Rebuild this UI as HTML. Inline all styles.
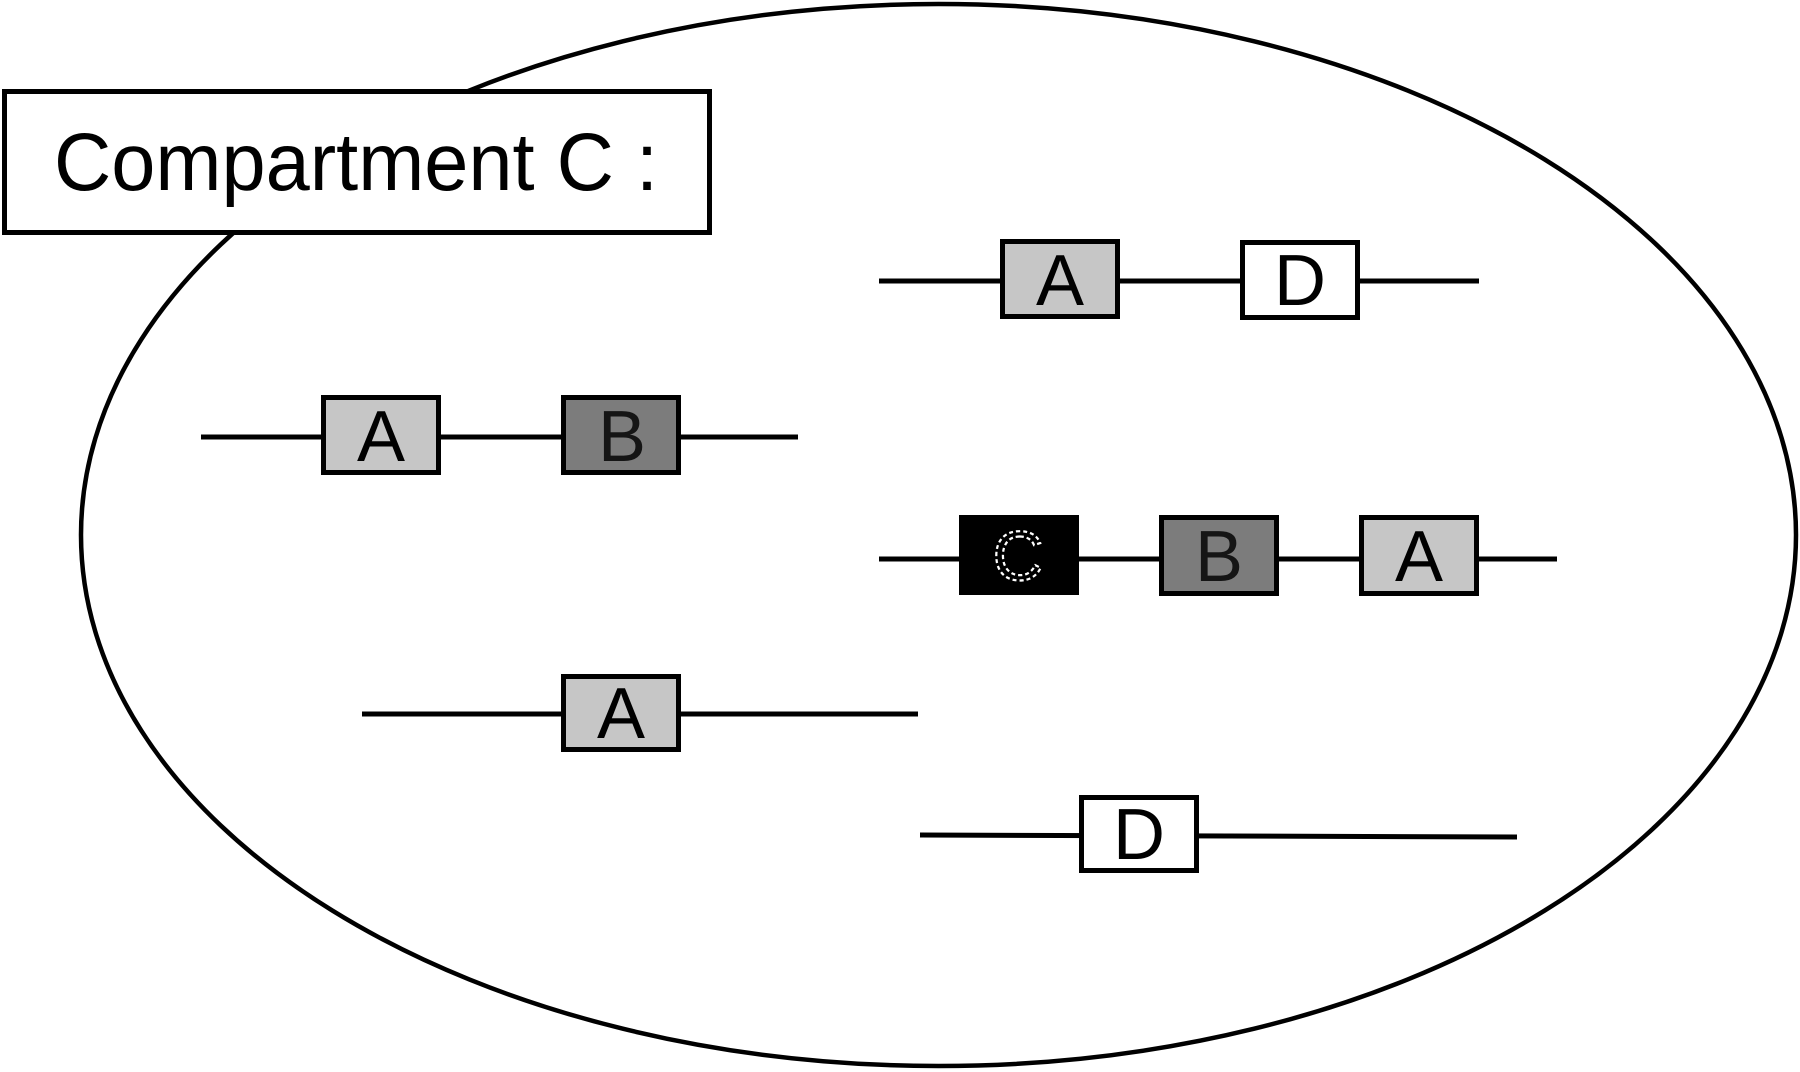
<!DOCTYPE html>
<html>
<head>
<meta charset="utf-8">
<style>
  html, body { margin: 0; padding: 0; background: #ffffff; }
  body { width: 1800px; height: 1072px; overflow: hidden; }
  svg { display: block; }
  text { font-family: "Liberation Sans", Arial, sans-serif; }
</style>
</head>
<body>
<svg width="1800" height="1072" viewBox="0 0 1800 1072" xmlns="http://www.w3.org/2000/svg">
  <rect x="0" y="0" width="1800" height="1072" fill="#ffffff"/>

  <!-- Compartment ellipse -->
  <ellipse cx="938.5" cy="535" rx="857.5" ry="531" fill="none" stroke="#000" stroke-width="4.5"/>

  <!-- Label box -->
  <rect x="4.5" y="91.5" width="705" height="141" fill="#ffffff" stroke="#000" stroke-width="5"/>
  <text x="54" y="190" font-size="82" fill="#000" textLength="604" lengthAdjust="spacingAndGlyphs">Compartment C :</text>

  <!-- Row 1: A - B -->
  <line x1="201" y1="437" x2="798" y2="437" stroke="#000" stroke-width="5"/>
  <rect x="323.5" y="397.5" width="115" height="75" fill="#c6c6c6" stroke="#000" stroke-width="5"/>
  <text x="381" y="461" font-size="72" text-anchor="middle" fill="#000">A</text>
  <rect x="563.5" y="397.5" width="115" height="75" fill="#7c7c7c" stroke="#000" stroke-width="5"/>
  <text x="622" y="461" font-size="72" text-anchor="middle" fill="#151515">B</text>

  <!-- Row 2 (top right): A - D -->
  <line x1="879" y1="281" x2="1479" y2="281" stroke="#000" stroke-width="5"/>
  <rect x="1002.5" y="241.5" width="115" height="75" fill="#c6c6c6" stroke="#000" stroke-width="5"/>
  <text x="1060" y="305" font-size="72" text-anchor="middle" fill="#000">A</text>
  <rect x="1242.5" y="242.5" width="115" height="75" fill="#ffffff" stroke="#000" stroke-width="5"/>
  <text x="1300" y="305" font-size="72" text-anchor="middle" fill="#000">D</text>

  <!-- Row 3: C - B - A -->
  <line x1="879" y1="559" x2="1557" y2="559" stroke="#000" stroke-width="5"/>
  <rect x="961.5" y="517.5" width="115" height="75" fill="#000000" stroke="#000" stroke-width="5"/>
  <text x="1018" y="580" font-size="70" text-anchor="middle" fill="none" stroke="#ffffff" stroke-width="2.2" stroke-dasharray="4 3">C</text>
  <rect x="1161.5" y="517.5" width="115" height="76" fill="#7c7c7c" stroke="#000" stroke-width="5"/>
  <text x="1219" y="581" font-size="72" text-anchor="middle" fill="#151515">B</text>
  <rect x="1361.5" y="517.5" width="115" height="76" fill="#c6c6c6" stroke="#000" stroke-width="5"/>
  <text x="1419" y="581" font-size="72" text-anchor="middle" fill="#000">A</text>

  <!-- Row 4: A -->
  <line x1="362" y1="714" x2="918" y2="714" stroke="#000" stroke-width="5"/>
  <rect x="563.5" y="676.5" width="115" height="73" fill="#c6c6c6" stroke="#000" stroke-width="5"/>
  <text x="621" y="738" font-size="72" text-anchor="middle" fill="#000">A</text>

  <!-- Row 5: D -->
  <line x1="920" y1="835" x2="1517" y2="837" stroke="#000" stroke-width="5"/>
  <rect x="1081.5" y="797.5" width="115" height="73" fill="#ffffff" stroke="#000" stroke-width="5"/>
  <text x="1139" y="859" font-size="72" text-anchor="middle" fill="#000">D</text>
</svg>
</body>
</html>
